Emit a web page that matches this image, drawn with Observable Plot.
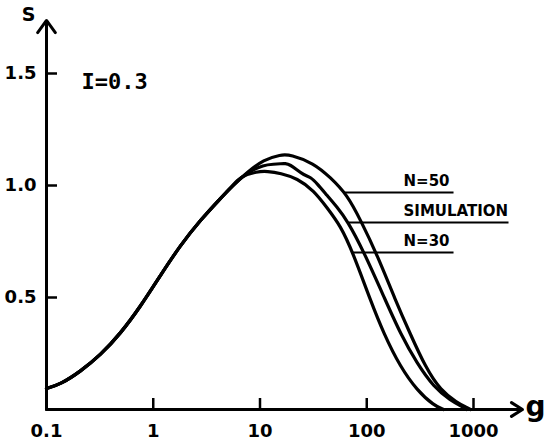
<!DOCTYPE html>
<html><head><meta charset="utf-8">
<script src="https://cdn.jsdelivr.net/npm/d3@7"></script>
<script src="https://cdn.jsdelivr.net/npm/@observablehq/plot@0.6"></script>
<style>body{margin:0;background:#fff} #chart{width:546px;height:442px}</style>
</head><body><div id="chart"></div>
<script>
// shared rising branch (all three curves coincide)
const commonG = [0.1, 0.135, 0.208, 0.321, 0.493, 0.76, 1.17, 1.8, 2.77, 4.27, 5.53];
const commonS = [0.094, 0.112, 0.170, 0.243, 0.339, 0.460, 0.600, 0.734, 0.846, 0.943, 0.999];
// N=50 branch
const n50G = [7.64, 10.8, 15.6, 19.3, 31.7, 45.7, 65.6, 87.4, 125.3, 185.9, 256.9, 355, 491, 703, 873, 937];
const n50S = [1.060, 1.115, 1.138, 1.138, 1.100, 1.036, 0.958, 0.846, 0.690, 0.487, 0.335, 0.189, 0.085, 0.030, 0.008, 0];
// simulation branch
const simG = [7.64, 10.85, 13.5, 15.6, 17.2, 19.3, 22.3, 25.7, 29.7, 34.4, 42.6, 52.9, 65.6, 93.2, 149.9, 207, 297, 425, 609, 806, 859];
const simS = [1.060, 1.092, 1.095, 1.097, 1.099, 1.092, 1.069, 1.047, 1.038, 1.008, 0.955, 0.903, 0.844, 0.708, 0.487, 0.338, 0.204, 0.100, 0.040, 0.010, 0];
// N=30 branch
const n30G = [6.57, 9.41, 11.7, 15.6, 22.3, 31.9, 42.6, 56.8, 73.5, 108.4, 144.6, 207, 297, 425, 524];
const n30S = [1.040, 1.063, 1.064, 1.055, 1.032, 0.978, 0.900, 0.820, 0.705, 0.487, 0.338, 0.189, 0.085, 0.018, 0];

const xTicks = [0.1, 1, 10, 100, 1000];
const xTickLabels = ["0.1", "1", "10", "100", "1000"];
const yTicks = [0.5, 1.0, 1.5];
const yTickLabels = ["0.5", "1.0", "1.5"];

const legendLabels = ["N=50", "SIMULATION", "N=30"];
const legendS = [0.969, 0.835, 0.701];
const legendStartG = [62, 68, 74];
const legendEndG = [650, 2128, 650];
const legendTextG = 221;

const xArrowEnd = 2877;
const yArrowEnd = 1.737;
const title = "I=0.3";

function series(name, gs, ss) {
  const pts = commonG.map((g, i) => ({series: name, g, S: commonS[i]}));
  gs.forEach((g, i) => pts.push({series: name, g, S: ss[i]}));
  return pts;
}
const curves = [
  ...series("N=50", n50G, n50S),
  ...series("SIMULATION", simG, simS),
  ...series("N=30", n30G, n30S)
];
const legend = legendLabels.map((label, i) => ({label, S: legendS[i], g1: legendStartG[i], g2: legendEndG[i]}));

const font = "DejaVu Sans";
const chart = Plot.plot({
  width: 546, height: 442,
  marginLeft: 46, marginRight: 73, marginTop: 73, marginBottom: 33,
  x: {type: "log", domain: [0.1, 1000], axis: null},
  y: {domain: [0, 1.5], axis: null},
  style: {fontFamily: font, background: "white", color: "black"},
  marks: [
    Plot.arrow([{x1: 0.1, y1: 0, x2: xArrowEnd, y2: 0}], {x1: "x1", y1: "y1", x2: "x2", y2: "y2", stroke: "black", strokeWidth: 3, headAngle: 64, headLength: 6.5}),
    Plot.arrow([{x1: 0.1, y1: 0, x2: 0.1, y2: yArrowEnd}], {x1: "x1", y1: "y1", x2: "x2", y2: "y2", stroke: "black", strokeWidth: 3, headAngle: 72, headLength: 7.5}),
    Plot.tickX(xTicks.slice(1), {x: d => d, insetTop: 325, stroke: "black", strokeWidth: 2.5}),
    Plot.tickY(yTicks, {y: d => d, insetRight: 416, stroke: "black", strokeWidth: 2.5}),
    Plot.text(xTicks, {x: d => d, y: 0, dy: 22, text: (d, i) => xTickLabels[i], fontSize: 18, fontWeight: "bold", fill: "black", textAnchor: "middle", lineAnchor: "middle"}),
    Plot.text(yTicks, {x: 0.1, y: d => d, dx: -10, text: (d, i) => yTickLabels[i], fontSize: 18, fontWeight: "bold", fill: "black", textAnchor: "end", lineAnchor: "middle"}),
    Plot.line(curves, {x: "g", y: "S", z: "series", curve: "basis", stroke: "black", strokeWidth: 3.2}),
    Plot.link(legend, {x1: "g1", x2: "g2", y1: "S", y2: "S", stroke: "black", strokeWidth: 2}),
    Plot.text(legend, {x: legendTextG, y: "S", dy: -11, text: "label", fontSize: 15, fontWeight: "bold", fill: "black", textAnchor: "start", lineAnchor: "middle"}),
    Plot.text([title], {frameAnchor: "top-left", dx: 35, dy: 8, text: d => d, fontFamily: "DejaVu Sans Mono", fontSize: 22, fontWeight: "bold", fill: "black", textAnchor: "start", lineAnchor: "middle"}),
    Plot.text(["S"], {frameAnchor: "top-left", dx: -18, dy: -59, text: d => d, fontSize: 19, fontWeight: "bold", fill: "black", textAnchor: "middle", lineAnchor: "middle"}),
    Plot.text(["g"], {frameAnchor: "bottom-right", dx: 62, dy: -2, text: d => d, fontSize: 28, fontWeight: "bold", fill: "black", textAnchor: "middle", lineAnchor: "middle"})
  ]
});
document.getElementById("chart").appendChild(chart);
</script>
</body></html>
